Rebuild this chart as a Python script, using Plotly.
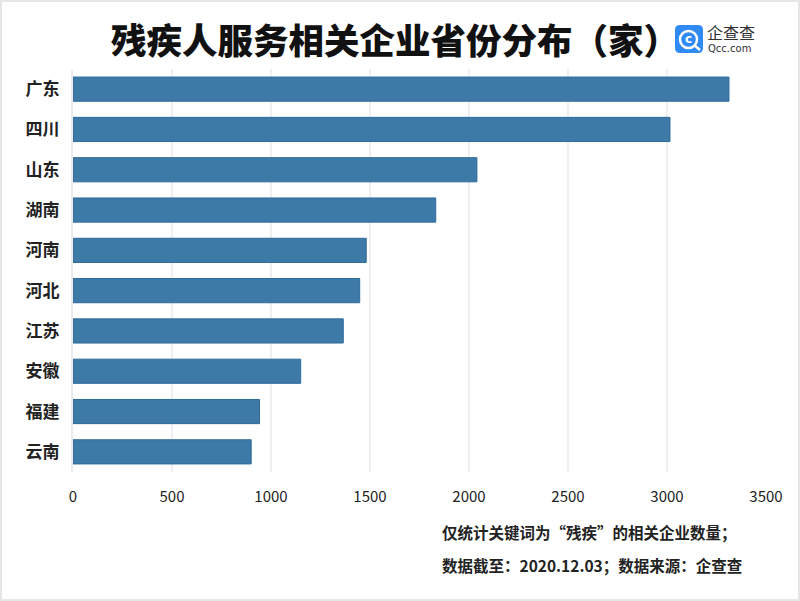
import plotly.graph_objects as go

provinces = ["广东", "四川", "山东", "湖南", "河南", "河北", "江苏", "安徽", "福建", "云南"]
counts = [3313, 3015, 2040, 1832, 1481, 1448, 1365, 1150, 942, 900]
x_ticks = [0, 500, 1000, 1500, 2000, 2500, 3000, 3500]

W, H = 800, 601
L, R, T, B = 73, 34, 69, 129
pw, ph = W - L - R, H - T - B

def px(x):
    return (x - L) / pw

def py(y):
    return (H - B - y) / ph

FONT = "Noto Sans CJK SC"

fig = go.Figure()
fig.add_trace(go.Bar(
    y=provinces, x=counts, orientation="h", width=0.6,
    marker=dict(color="#3e7aa8", line=dict(color="#2f6b9b", width=1)),
    hoverinfo="x+y",
))

fig.update_layout(
    width=W, height=H,
    margin=dict(l=L, r=R, t=T, b=B, pad=0),
    paper_bgcolor="white", plot_bgcolor="white",
    showlegend=False,
    font=dict(family=FONT, color="#222"),
    xaxis=dict(
        range=[0, 3500], tickvals=x_ticks, ticktext=[str(v) for v in x_ticks],
        showgrid=True, gridcolor="#efeff3", gridwidth=2,
        zeroline=False, showline=False, ticks="",
        tickfont=dict(size=15, color="#222", family=FONT),
        ticklabelstandoff=14,
    ),
    yaxis=dict(
        categoryorder="array", categoryarray=provinces, autorange="reversed",
        showgrid=False, zeroline=False, showline=True, linecolor="#ebebef", linewidth=2,
        ticks="", tickfont=dict(size=17, color="#222", family=FONT, weight="bold"),
        ticklabelstandoff=8,
    ),
)

# title
fig.add_annotation(
    text="残疾人服务相关企业省份分布（家）", xref="paper", yref="paper",
    x=px(395), y=py(38), xanchor="center", yanchor="middle", showarrow=False,
    font=dict(size=35.5, color="#111", family=FONT, weight=900),
)

# logo: rounded blue square
x0, x1, y0, y1 = px(675), px(703), py(53), py(25)
rx, ry = 5 / pw, 5 / ph
path = (f"M {x0+rx},{y0} L {x1-rx},{y0} Q {x1},{y0} {x1},{y0+ry} "
        f"L {x1},{y1-ry} Q {x1},{y1} {x1-rx},{y1} L {x0+rx},{y1} "
        f"Q {x0},{y1} {x0},{y1-ry} L {x0},{y0+ry} Q {x0},{y0} {x0+rx},{y0} Z")
fig.add_shape(type="path", xref="paper", yref="paper", path=path,
              fillcolor="#2f8af5", line=dict(width=0), layer="above")
# Q ring
fig.add_shape(type="circle", xref="paper", yref="paper",
              x0=px(680), x1=px(697), y0=py(48), y1=py(31),
              line=dict(color="white", width=2.5), fillcolor="rgba(0,0,0,0)", layer="above")
fig.add_shape(type="line", xref="paper", yref="paper",
              x0=px(694), x1=px(700), y0=py(45), y1=py(50),
              line=dict(color="white", width=2.5), layer="above")
fig.add_annotation(text="c", xref="paper", yref="paper", x=px(688.5), y=py(39),
                   xanchor="center", yanchor="middle", showarrow=False,
                   font=dict(size=12, color="white", family="DejaVu Sans", weight="bold"))
fig.add_annotation(text="企查查", xref="paper", yref="paper", x=px(705), y=py(31.5),
                   xanchor="left", yanchor="middle", showarrow=False,
                   font=dict(size=16, color="#333", family=FONT))
fig.add_annotation(text="Qcc.com", xref="paper", yref="paper", x=px(706), y=py(49),
                   xanchor="left", yanchor="middle", showarrow=False,
                   font=dict(size=10, color="#333", family="DejaVu Sans"))

# footnotes
fig.add_annotation(text="仅统计关键词为“残疾”的相关企业数量；", xref="paper", yref="paper",
                   x=px(440), y=py(532), xanchor="left", yanchor="middle", showarrow=False,
                   font=dict(size=15.5, color="#222", family=FONT, weight="bold"))
fig.add_annotation(text="数据截至：2020.12.03；数据来源：企查查", xref="paper", yref="paper",
                   x=px(440), y=py(565), xanchor="left", yanchor="middle", showarrow=False,
                   font=dict(size=15.5, color="#222", family=FONT, weight="bold"))

# outer frame
fig.add_shape(type="rect", xref="paper", yref="paper",
              x0=px(1), x1=px(799), y0=py(600), y1=py(1),
              line=dict(color="#e6e6e6", width=2), fillcolor="rgba(0,0,0,0)")

fig.write_html("out.html", config={"displayModeBar": False},
               post_script="document.body.style.margin='0';document.body.style.overflow='hidden';")
